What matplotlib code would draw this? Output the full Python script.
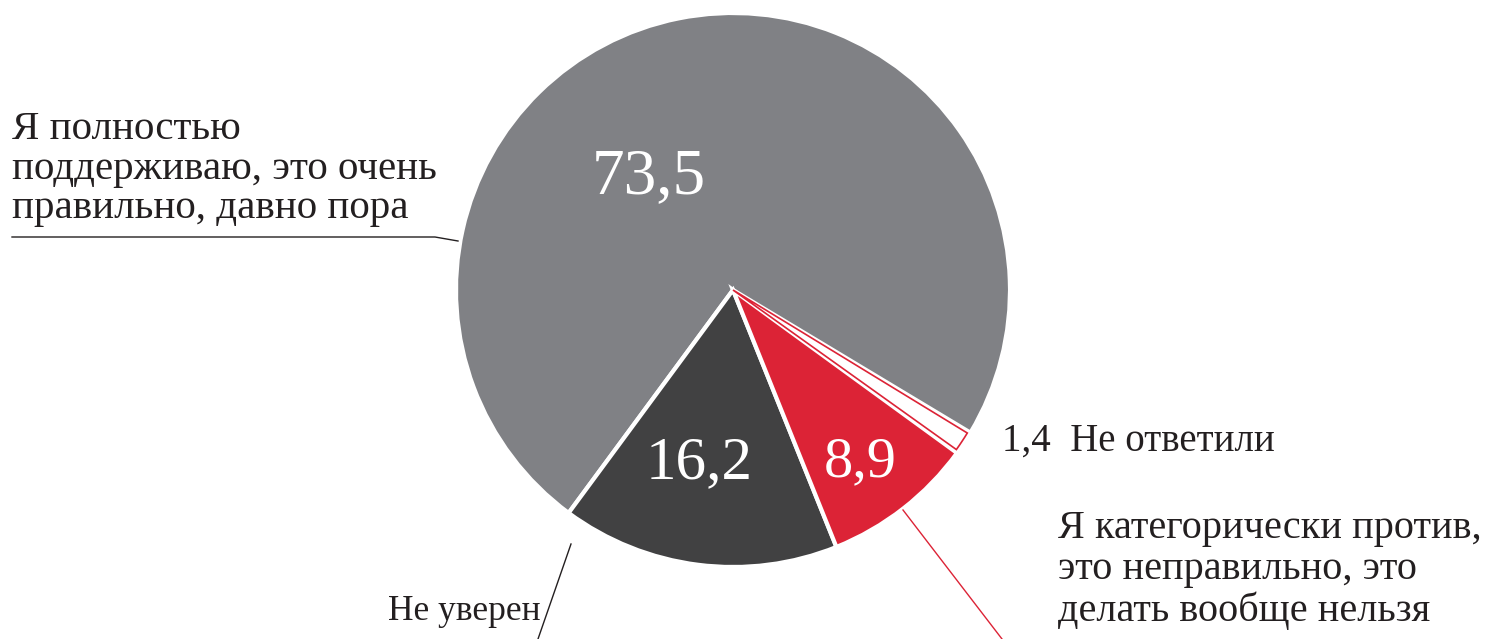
import numpy as np
import matplotlib
matplotlib.use("Agg")
import matplotlib.pyplot as plt

plt.rcParams['font.family'] = ['Liberation Serif', 'DejaVu Serif']

labels = ['Я полностью\nподдерживаю, это очень\nправильно, давно пора',
          'Не уверен',
          'Я категорически против,\nэто неправильно, это\nделать вообще нельзя',
          'Не ответили']
values = [73.5, 16.2, 8.9, 1.4]
colors = ['#808185', '#414142', '#dc2336', '#ffffff']
text_c = '#231f20'

fig = plt.figure(figsize=(14.85, 6.39), dpi=100)
ax = fig.add_axes([0, 0, 1, 1])

cx, cy, r = 733, 349, 277
wedges, _ = ax.pie(values, colors=colors, startangle=-31, counterclock=True,
                   center=(cx, cy), radius=r, frame=True,
                   wedgeprops=dict(edgecolor='white', linewidth=3))
ax.set_xlim(0, 1485)
ax.set_ylim(0, 639)
ax.set_aspect('equal')
ax.axis('off')

# the small white slice gets a thin red outline, set in a bit
w = wedges[3]
w.set_radius(r - 2.5)
w.set_theta1(w.theta1 + 0.5)
w.set_theta2(w.theta2 - 0.4)
w.set_edgecolor('#dc2336')
w.set_linewidth(1.2)

fmt = lambda v: ('%.1f' % v).replace('.', ',')

# values inside slices
ax.text(649, 462, fmt(values[0]), color='white', fontsize=47, ha='center', va='center')
ax.text(699, 176, fmt(values[1]), color='white', fontsize=44, ha='center', va='center')
ax.text(860, 177, fmt(values[2]), color='white', fontsize=42, ha='center', va='center')

# outside labels
ax.text(1002, 198, fmt(values[3]) + '  ' + labels[3], color=text_c, fontsize=28,
        ha='left', va='center')
ax.text(12, 470, labels[0], color=text_c, fontsize=29.5, ha='left', va='center',
        linespacing=1.1)
ax.plot([12, 435, 458], [402, 402, 398], color=text_c, lw=1)
ax.text(388, 27, labels[1], color=text_c, fontsize=25.5, ha='left', va='center')
ax.plot([571, 538], [95, 0], color=text_c, lw=1)
ax.text(1058, 69, labels[2], color=text_c, fontsize=29, ha='left', va='center',
        linespacing=1.12)
ax.plot([903, 1002], [129, 0], color='#dc2336', lw=1)

fig.savefig('out.png', dpi=100)
